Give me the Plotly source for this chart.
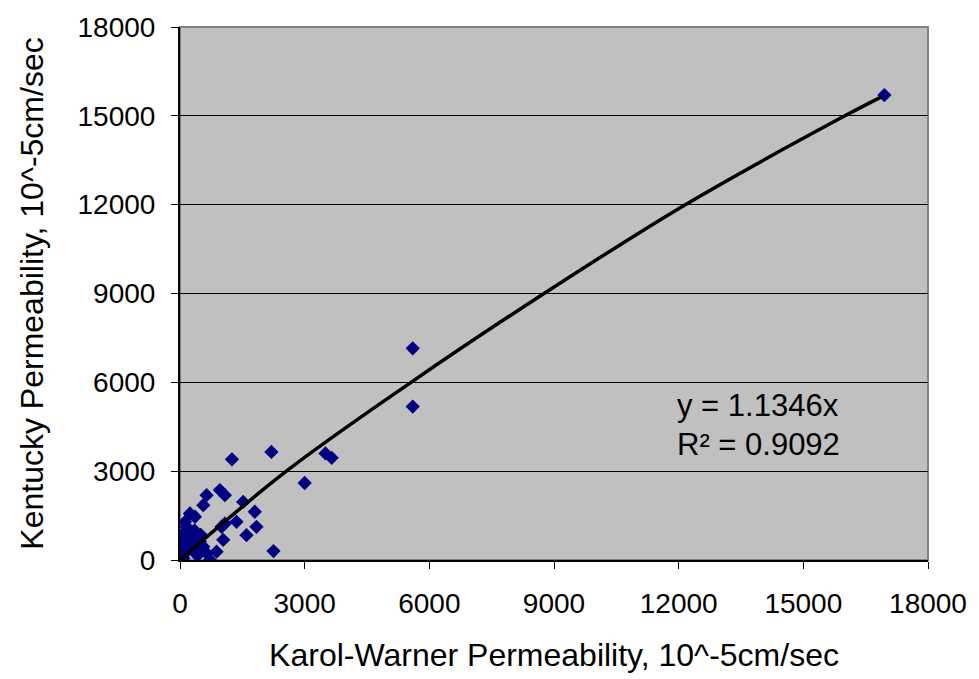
import plotly.graph_objects as go

# Scatter data (Karol-Warner vs Kentucky permeability, 10^-5 cm/sec)
kw = [16950, 5600, 5600, 3500, 3650, 3000, 2250, 2200, 1250,
      640, 960, 1080, 560, 1520, 1800, 240, 360, 1360, 1080, 1000, 1840,
      1600, 1040, 160, 80, 320, 480, 40, 0, 200, 400, 640, 880, 720, 80,
      560, 280, 160, 120, 0, 60, 100, 150, 250, 300, 350, 420, 500]
ky = [15700, 7150, 5180, 3600, 3450, 2600, 300, 3650, 3400,
      2190, 2360, 2190, 1850, 1960, 1630, 1570, 1460, 1290, 1230, 1120, 1120,
      840, 680, 1120, 900, 790, 620, 560, 280, 340, 230, 230, 280, 0, 60,
      450, 500, 730, 1290, 50, 150, 400, 650, 900, 350, 1000, 150, 850]

# Trend line as drawn in the reference
trend_x = [0, 2560, 5560, 8760, 12160, 16000, 16880]
trend_y = [0, 3000, 6000, 9000, 12000, 15000, 15640]

x_ticks = [0, 3000, 6000, 9000, 12000, 15000, 18000]
y_ticks = [0, 3000, 6000, 9000, 12000, 15000, 18000]

fig = go.Figure()
fig.add_trace(go.Scatter(x=kw, y=ky, mode="markers",
                         marker=dict(symbol="diamond", size=11, color="#000080"),
                         showlegend=False))
fig.add_trace(go.Scatter(x=trend_x, y=trend_y, mode="lines",
                         line=dict(color="black", width=3.5, shape="spline", smoothing=1.0),
                         showlegend=False))

font = "Liberation Sans, Arial, sans-serif"
fig.update_layout(
    width=979, height=679,
    margin=dict(l=180, r=49, t=25, b=119),
    paper_bgcolor="white", plot_bgcolor="#C0C0C0",
    font=dict(family=font, size=28, color="black"),
    xaxis=dict(range=[0, 18000], tickvals=x_ticks, ticktext=[str(v) for v in x_ticks],
               showgrid=False, zeroline=False, showline=True, linecolor="black", linewidth=2,
               ticks="outside", ticklen=7, tickcolor="black", ticklabelstandoff=10,
               tickfont=dict(size=28),
               title=dict(text="Karol-Warner Permeability, 10^-5cm/sec", standoff=26,
                          font=dict(size=32))),
    yaxis=dict(range=[0, 18000], tickvals=y_ticks, ticktext=[str(v) for v in y_ticks],
               showgrid=True, gridcolor="black", gridwidth=1, zeroline=False,
               showline=True, linecolor="black", linewidth=2,
               ticks="outside", ticklen=7, tickcolor="black", ticklabelstandoff=10,
               tickfont=dict(size=28),
               title=dict(text="Kentucky Permeability, 10^-5cm/sec", standoff=24,
                          font=dict(size=32))),
    shapes=[dict(type="rect", xref="paper", yref="paper", x0=0, x1=1, y0=0, y1=1,
                 line=dict(color="#808080", width=2), layer="below")],
    annotations=[
        dict(x=11900, y=4575, xref="x", yref="y", xanchor="left", yanchor="bottom",
             text="y = 1.1346x", showarrow=False, font=dict(size=31, family=font)),
        dict(x=11900, y=4575, xref="x", yref="y", xanchor="left", yanchor="top",
             text="R² = 0.9092", showarrow=False, font=dict(size=31, family=font)),
    ],
)
fig.write_html("out.html")
